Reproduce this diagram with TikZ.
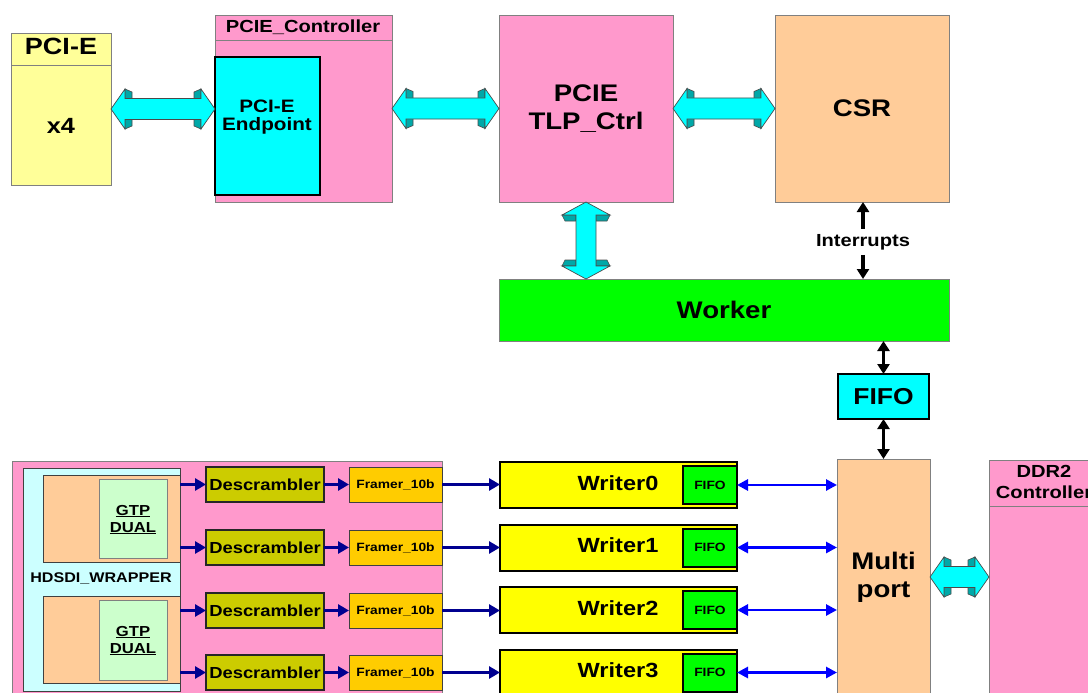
\documentclass[tikz,border=0pt]{standalone}
\usepackage{fontspec}
\setmainfont{Liberation Sans}[FakeStretch=1.15]
\usetikzlibrary{arrows.meta,calc}
\definecolor{pcieY}{HTML}{FFFF99}
\definecolor{pinkC}{HTML}{FF99CC}
\definecolor{cyanC}{HTML}{00FFFF}
\definecolor{orangeC}{HTML}{FFCC99}
\definecolor{greenC}{HTML}{00FF00}
\definecolor{yellowC}{HTML}{FFFF00}
\definecolor{oliveC}{HTML}{CCCC00}
\definecolor{framerC}{HTML}{FFCC00}
\definecolor{lcyanC}{HTML}{CCFFFF}
\definecolor{lgreenC}{HTML}{CCFFCC}
\definecolor{navyC}{HTML}{000090}
\definecolor{blueC}{HTML}{0000FF}
\definecolor{bordergray}{HTML}{808080}
\definecolor{fatteal}{HTML}{00A8A8}
\definecolor{fatedge}{HTML}{4A4A4A}
\newcommand\sz[2]{\fontsize{#1}{#2}\selectfont\bfseries}
% horizontal fat double arrow between two points (left, right)
\newcommand\hfat[2]{%
 \path[fatband] let \p1=#1, \p2=#2 in
   (\x1+14pt,\y1+20pt) -- (\x1+21pt,\y1+17pt) -- (\x1+21pt,\y1+10pt) -- (\x1+14pt,\y1+10pt) -- cycle
   (\x1+14pt,\y1-20pt) -- (\x1+21pt,\y1-17pt) -- (\x1+21pt,\y1-10pt) -- (\x1+14pt,\y1-10pt) -- cycle
   (\x2-14pt,\y1+20pt) -- (\x2-21pt,\y1+17pt) -- (\x2-21pt,\y1+10pt) -- (\x2-14pt,\y1+10pt) -- cycle
   (\x2-14pt,\y1-20pt) -- (\x2-21pt,\y1-17pt) -- (\x2-21pt,\y1-10pt) -- (\x2-14pt,\y1-10pt) -- cycle;
 \path[fatbody] let \p1=#1, \p2=#2 in
   (\x1,\y1) -- (\x1+14pt,\y1+20pt) -- (\x1+14pt,\y1+10.5pt) -- (\x2-14pt,\y1+10.5pt)
   -- (\x2-14pt,\y1+20pt) -- (\x2,\y1) -- (\x2-14pt,\y1-20pt) -- (\x2-14pt,\y1-10.5pt)
   -- (\x1+14pt,\y1-10.5pt) -- (\x1+14pt,\y1-20pt) -- cycle;}
% vertical fat double arrow between two points (top, bottom)
\newcommand\vfat[2]{%
 \path[fatband] let \p1=#1, \p2=#2 in
   (\x1-24pt,\y1-13pt) -- (\x1-21pt,\y1-19pt) -- (\x1-10pt,\y1-19pt) -- (\x1-10pt,\y1-13pt) -- cycle
   (\x1+24pt,\y1-13pt) -- (\x1+21pt,\y1-19pt) -- (\x1+10pt,\y1-19pt) -- (\x1+10pt,\y1-13pt) -- cycle
   (\x1-24pt,\y2+13pt) -- (\x1-21pt,\y2+19pt) -- (\x1-10pt,\y2+19pt) -- (\x1-10pt,\y2+13pt) -- cycle
   (\x1+24pt,\y2+13pt) -- (\x1+21pt,\y2+19pt) -- (\x1+10pt,\y2+19pt) -- (\x1+10pt,\y2+13pt) -- cycle;
 \path[fatbody] let \p1=#1, \p2=#2 in
   (\x1,\y1) -- (\x1+24pt,\y1-13pt) -- (\x1+10pt,\y1-13pt) -- (\x1+10pt,\y2+13pt)
   -- (\x1+24pt,\y2+13pt) -- (\x1,\y2) -- (\x1-24pt,\y2+13pt) -- (\x1-10pt,\y2+13pt)
   -- (\x1-10pt,\y1-13pt) -- (\x1-24pt,\y1-13pt) -- cycle;}
\begin{document}
\begin{tikzpicture}[x=1pt,y=-1pt,
  box/.style={anchor=north west, inner sep=0pt, outer sep=0pt, draw=bordergray, line width=0.8pt, align=center},
  tbox/.style={box, draw=black, line width=2pt},
  txt/.style={inner sep=0pt, anchor=base, align=center},
  fatbody/.style={fill=cyanC, draw=fatedge, line width=0.7pt, line join=miter},
  fatband/.style={fill=fatteal, draw=fatedge, line width=0.6pt},
  barr/.style={draw=black, line width=3.2pt, {Triangle[length=10pt,width=12pt]}-{Triangle[length=10pt,width=12pt]}},
  barrone/.style={draw=black, line width=3.2pt, -{Triangle[length=10pt,width=12pt]}},
  navyarr/.style={draw=navyC, line width=3.2pt, -{Triangle[length=11pt,width=12pt]}},
  bluearr/.style={draw=blueC, line width=2.8pt, {Triangle[length=11pt,width=11pt]}-{Triangle[length=11pt,width=11pt]}}
]
\useasboundingbox (0,0) rectangle (1088,693);
\clip (0,0) rectangle (1088,693);
\fill[white] (0,0) rectangle (1088,693);

% ---------- top row ----------
\node[box, fill=pcieY, minimum width=100pt, minimum height=152pt] (pcie) at (11,33) {};
\draw[bordergray, line width=0.8pt] ([yshift=-32pt]pcie.north west) -- ([yshift=-32pt]pcie.north east);
\node[txt, font=\sz{23.5}{28}] (pcieT) at (61,55) {PCI-E};
\node[txt, font=\sz{22}{26}] (x4) at (61,133) {x4};

\node[box, fill=pinkC, minimum width=177pt, minimum height=187pt] (ctrl) at (215,15) {};
\draw[bordergray, line width=0.8pt] ([yshift=-25pt]ctrl.north west) -- ([yshift=-25pt]ctrl.north east);
\node[txt, font=\sz{17.5}{20}] (ctrlT) at (303,33) {PCIE\_Controller};
\node[tbox, draw=black, line width=2.5pt, fill=cyanC, minimum width=105pt, minimum height=138pt] (ep) at (215,57) {};
\node[txt, font=\sz{18}{18}] (epT) at (267,131) {PCI-E\\Endpoint};

\node[box, fill=pinkC, minimum width=174pt, minimum height=187pt, font=\sz{24}{28}] (tlp) at (499,15) {PCIE\\TLP\_Ctrl};
\node[box, fill=orangeC, minimum width=174pt, minimum height=187pt, font=\sz{24}{28}] (csr) at (775,15) {CSR};
\node[box, fill=greenC, minimum width=450pt, minimum height=62pt, font=\sz{24}{28}] (worker) at (499,279) {Worker};

\hfat{(pcie.east)}{(pcie.east -| ep.west)}
\hfat{(ctrl.east)}{(ctrl.east -| tlp.west)}
\hfat{(tlp.east)}{(tlp.east -| csr.west)}
\vfat{(tlp.south)}{(tlp.south |- worker.north)}

\node[txt, font=\sz{17.5}{20}, inner ysep=5pt, inner xsep=0pt] (intr) at (863,246) {Interrupts};
\draw[barrone] (intr.north) -- (intr.north |- csr.south);
\draw[barrone] (intr.south) -- (intr.south |- worker.north);

\node[tbox, fill=cyanC, minimum width=91pt, minimum height=45pt, font=\sz{23}{26}] (fifo) at (838,374) {FIFO};
\draw[barr] (fifo.north |- worker.south) -- (fifo.north);

% ---------- bottom ----------
\node[box, fill=orangeC, minimum width=93pt, minimum height=236pt, font=\sz{24}{28}] (multi) at (837,459) {Multi\\port};
\draw[barr] (fifo.south) -- (fifo.south |- multi.north);

\node[box, fill=pinkC, minimum width=112pt, minimum height=235pt] (ddr) at (989,460) {};
\draw[bordergray, line width=0.8pt] ([yshift=-46pt]ddr.north west) -- ([yshift=-46pt]ddr.north east);
\node[txt, font=\sz{17.5}{21}] (ddrT) at (1044,498) {DDR2\\Controller};
\hfat{(multi.east)}{(multi.east -| ddr.west)}

\node[box, fill=pinkC, minimum width=430pt, minimum height=240pt] (sdi) at (12,461) {};
\node[box, draw=black!75, fill=lcyanC, minimum width=157pt, minimum height=223pt] (hdsdi) at (23,468) {};
\node[txt, font=\sz{14}{16}] (hdsdiT) at (101,582) {HDSDI\_WRAPPER};
\node[box, draw=black!75, fill=orangeC, minimum width=137pt, minimum height=87pt] (or1) at (43,475) {};
\node[box, fill=lgreenC, minimum width=68pt, minimum height=79pt] (gtp1) at (99,479) {};
\node[txt, font=\sz{14.5}{17}] (gtp1T) at (133,532) {\underline{GTP}\\\underline{DUAL}};
\node[box, draw=black!75, fill=orangeC, minimum width=137pt, minimum height=87pt] (or2) at (43,596) {};
\node[box, fill=lgreenC, minimum width=68pt, minimum height=80pt] (gtp2) at (99,600) {};
\node[txt, font=\sz{14.5}{17}] (gtp2T) at (133,653) {\underline{GTP}\\\underline{DUAL}};

\foreach \i/\y in {0/467,1/530,2/593,3/655} {
  \node[box, draw=black!85, line width=1.3pt, fill=oliveC, minimum width=118pt, minimum height=35pt, font=\sz{16}{19}] (d\i) at (206,\y) {Descrambler};
  \node[box, draw=black!75, line width=0.9pt, fill=framerC, minimum width=93pt, minimum height=35pt, font=\sz{12}{14}] (f\i) at (349,\y) {Framer\_10b};
  \draw[navyarr] (d\i.west -| hdsdi.east) -- (d\i.west);
  \draw[navyarr] (d\i.east) -- (f\i.west);
}
\foreach \i/\y in {0/462,1/524.5,2/587,3/649.5} {
  \node[tbox, fill=yellowC, minimum width=237pt, minimum height=46pt] (w\i) at (500,\y) {};
  \node[tbox, fill=greenC, anchor=east, minimum width=54pt, minimum height=38pt, font=\sz{12}{14}] (q\i) at (w\i.east) {FIFO};
  \node[txt, font=\sz{20.5}{24}] (wt\i) at ([shift={(118,5)}]w\i.west) {Writer\i};
  \draw[navyarr] (f\i.east) -- (f\i.east -| w\i.west);
  \draw[bluearr] (q\i.east) -- (q\i.east -| multi.west);
}
\end{tikzpicture}
\end{document}
